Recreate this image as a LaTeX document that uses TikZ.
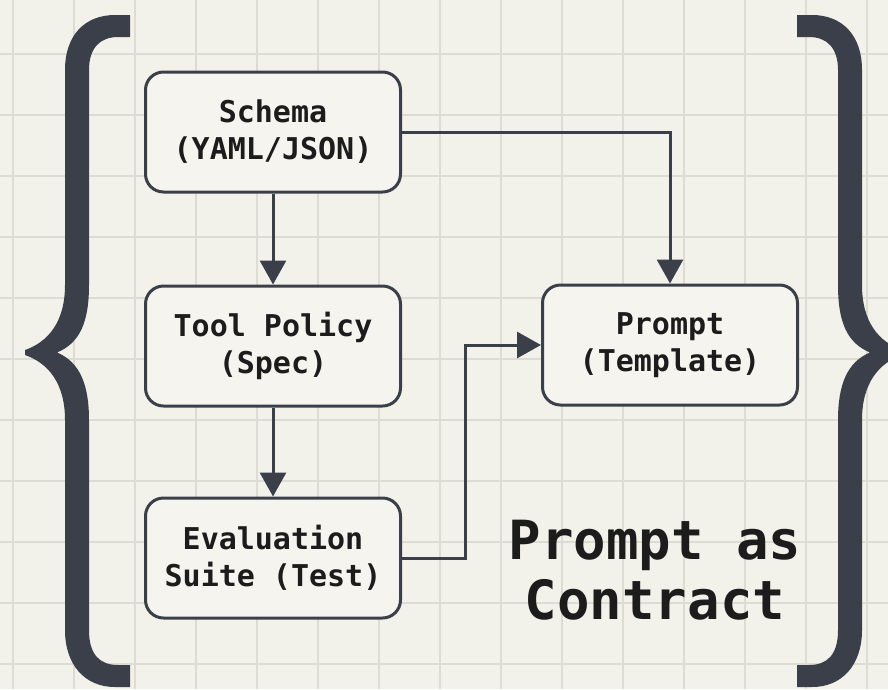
\documentclass[tikz,border=0pt]{standalone}
\usepackage{fontspec}
\setmonofont{DejaVu Sans Mono}
\usetikzlibrary{arrows.meta}
\definecolor{bg}{HTML}{F3F2EA}
\definecolor{gridc}{HTML}{DDDCD2}
\definecolor{ink}{HTML}{3A3F49}
\definecolor{txt}{HTML}{1C1C1C}
\definecolor{boxbg}{HTML}{F5F4EE}
\newcommand{\bracepath}[2]{%
  \fill[ink] ({#1-#2*0},15) -- ({#1-#2*15},15)
    .. controls ({#1-#2*45},15) and ({#1-#2*65},35) .. ({#1-#2*65},70)
    -- ({#1-#2*65},285)
    .. controls ({#1-#2*65},322) and ({#1-#2*82},342) .. ({#1-#2*105},350)
    -- ({#1-#2*105},355)
    .. controls ({#1-#2*82},363) and ({#1-#2*65},383) .. ({#1-#2*65},420)
    -- ({#1-#2*65},630)
    .. controls ({#1-#2*65},665) and ({#1-#2*45},687) .. ({#1-#2*15},687)
    -- ({#1-#2*0},687) -- ({#1-#2*0},665) -- ({#1-#2*12},665)
    .. controls ({#1-#2*30},665) and ({#1-#2*41},655) .. ({#1-#2*41},630)
    -- ({#1-#2*41},420)
    .. controls ({#1-#2*41},385) and ({#1-#2*50},362) .. ({#1-#2*73},352.5)
    .. controls ({#1-#2*50},343) and ({#1-#2*41},322) .. ({#1-#2*41},285)
    -- ({#1-#2*41},70)
    .. controls ({#1-#2*41},48) and ({#1-#2*30},37) .. ({#1-#2*12},37)
    -- ({#1-#2*0},37) -- cycle;}
\begin{document}
\begin{tikzpicture}[x=1pt,y=-1pt,
  stage/.style={draw=ink, line width=3pt, rounded corners=18pt, fill=boxbg,
    minimum width=255pt, minimum height=120pt, align=center, text=txt,
    font=\ttfamily\bfseries\fontsize{30}{37}\selectfont, inner sep=0pt},
  flow/.style={draw=ink, line width=3pt, -{Triangle[width=26pt,length=24pt]}},
  gridline/.style={draw=gridc, line width=1.5pt},
  title/.style={align=center, text=txt, font=\ttfamily\bfseries\fontsize{54}{60}\selectfont, inner sep=0pt}]
\useasboundingbox (0,0) rectangle (888,689);
\fill[bg] (0,0) rectangle (888,689);
\foreach \gx in {13,74,...,867} \draw[gridline] (\gx,0) -- (\gx,689);
\foreach \gy in {54,115,...,664} \draw[gridline] (0,\gy) -- (888,\gy);
\bracepath{130}{1}
\bracepath{797}{-1}
\node[stage] (schema) at (273,132) {Schema\\(YAML/JSON)};
\node[stage] (tool) at (273,346) {Tool Policy\\(Spec)};
\node[stage] (eval) at (273,558) {Evaluation\\Suite (Test)};
\node[stage] (prompt) at (670,345) {Prompt\\(Template)};
\coordinate (bend) at (465,450);
\draw[flow] (schema) -- (tool);
\draw[flow] (tool) -- (eval);
\draw[flow] (schema.east) -| (prompt.north);
\draw[flow] (eval.east) -| (bend) |- (prompt.west);
\node[title] (contract) at (655,570) {Prompt as\\Contract};
\end{tikzpicture}
\end{document}
